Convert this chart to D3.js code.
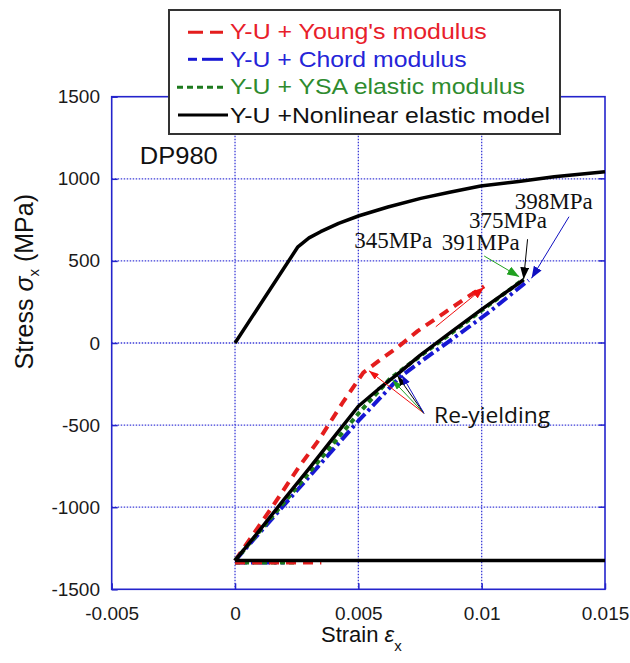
<!DOCTYPE html>
<html>
<head>
<meta charset="utf-8">
<script src="https://cdn.jsdelivr.net/npm/d3@7"></script>
<style>
  body { margin: 0; background: #fff; }
  svg { display: block; }
</style>
</head>
<body>
<div id="chart"></div>
<script>
// Data ###############################################################
// monotonic loading (black, upper curve)
var strainMono = [0, 0.00255, 0.0030, 0.00347, 0.0042, 0.00503, 0.0062, 0.00753, 0.0087, 0.00996, 0.0115, 0.01294, 0.015];
var stressMono = [0, 586, 640, 678, 729, 775, 828, 881, 918, 956, 984, 1013, 1043];

// reverse loading after prestrain: Y-U + Young's modulus (red)
var strainYoung = [0, 0.0015, 0.0026, 0.0034, 0.0044, 0.0052, 0.0058, 0.0066, 0.0074, 0.0085, 0.0094, 0.0101];
var stressYoung = [-1325, -1000, -753, -590, -355, -180, -112, -25, 72, 185, 278, 345];

// Y-U + Chord modulus (blue)
var strainChord = [0, 0.0025, 0.005, 0.0067, 0.0077, 0.009, 0.0103, 0.0119];
var stressChord = [-1325, -900, -475, -205, -95, 45, 188, 382];

// Y-U + YSA elastic modulus (green)
var strainYSA = [0, 0.0025, 0.005, 0.0063, 0.0075, 0.0087, 0.01, 0.0117];
var stressYSA = [-1325, -880, -430, -215, -80, 52, 198, 388];

// Y-U + Nonlinear elastic model (black)
var strainNL = [0, 0.001, 0.002, 0.003, 0.004, 0.005, 0.0058, 0.0066, 0.0075, 0.0087, 0.01, 0.0117];
var stressNL = [-1325, -1140, -950, -765, -575, -385, -283, -188, -75, 60, 205, 385];

// flat compression level (prestrain stress)
var holdStrain = [0, 0.015];
var holdStress = [-1325, -1325];
var holdEndYoung = 0.0035, holdEndYSA = 0.0025, holdEndChord = 0.002;

// axes
var xTicks = [-0.005, 0, 0.005, 0.01, 0.015];
var xTickLabels = ["-0.005", "0", "0.005", "0.01", "0.015"];
var yTicks = [-1500, -1000, -500, 0, 500, 1000, 1500];
var yTickLabels = ["-1500", "-1000", "-500", "0", "500", "1000", "1500"];
var xGrid = [0, 0.005, 0.01];
var yGrid = [-1000, -500, 0, 500, 1000];

// legend
var legendNames = ["Y-U + Young's modulus", "Y-U + Chord modulus", "Y-U + YSA elastic modulus", "Y-U +Nonlinear elastic model"];

// annotations (data coordinates)
var peakLabels = ["345MPa", "391MPa", "375MPa", "398MPa"];
var peakLabelX = [0.00483, 0.00838, 0.00949, 0.01134];
var peakLabelY = [580, 566, 699, 817];
var peakFromX = [0.00814, 0.0101, 0.01186, 0.01354];
var peakFromY = [99, 530, 632, 769];
var peakToX = [0.0101, 0.01152, 0.0117, 0.01202];
var peakToY = [339, 404, 388, 394];
var reyieldFrom = [0.00766, -428];
var reyieldToX = [0.00543, 0.00638, 0.00659, 0.00676];
var reyieldToY = [-169, -225, -201, -195];

// Styles #############################################################
var red = "#e41d1d", blue = "#1717d4", green = "#1d7a1d", black = "#000";
var arrowColors = ["#f01010", "#20a020", "#000", "#1010c0"];
var legendColors = ["#e8202a", "#2424d8", "#2e8b2e", "#111"];
var axisBlue = "#2424cc";

var width = 630;
var height = 663;

var svg = d3.select("#chart")
    .append("svg")
    .attr("width", width)
    .attr("height", height);

svg.append("rect").attr("width", width).attr("height", height).attr("fill", "#fff");

var x = d3.scaleLinear().domain([-0.005, 0.015]).range([111.7, 605]);
var y = d3.scaleLinear().domain([-1500, 1500]).range([589.3, 96.7]);

// markers for arrows
var defs = svg.append("defs");
function addMarker(id, color, len, wid) {
    defs.append("marker")
        .attr("id", id)
        .attr("markerUnits", "userSpaceOnUse")
        .attr("markerWidth", len)
        .attr("markerHeight", wid)
        .attr("refX", len)
        .attr("refY", wid / 2)
        .attr("orient", "auto")
        .append("path")
        .attr("d", `M0,0 L${len},${wid / 2} L0,${wid} z`)
        .attr("fill", color);
}
arrowColors.forEach(function(c, i) {
    addMarker("big" + i, c, 12, 9);
    addMarker("small" + i, c, 10, 7);
});

// grid ###############################################################
svg.append("g").selectAll("line").data(xGrid).enter().append("line")
    .attr("x1", d => x(d)).attr("x2", d => x(d))
    .attr("y1", y(1500)).attr("y2", y(-1500))
    .attr("stroke", "#3c3cd8").attr("stroke-width", 1.3)
    .attr("stroke-dasharray", "1.5,1.5");
svg.append("g").selectAll("line").data(yGrid).enter().append("line")
    .attr("y1", d => y(d)).attr("y2", d => y(d))
    .attr("x1", x(-0.005)).attr("x2", x(0.015))
    .attr("stroke", "#3c3cd8").attr("stroke-width", 1.3)
    .attr("stroke-dasharray", "1.5,1.5");

// axes with d3 axis generators
var xAxis = d3.axisBottom(x).tickValues(xTicks)
    .tickFormat((d, i) => xTickLabels[i])
    .tickSizeInner(-6).tickSizeOuter(0).tickPadding(17);
var yAxis = d3.axisLeft(y).tickValues(yTicks)
    .tickFormat((d, i) => yTickLabels[i])
    .tickSizeInner(-6).tickSizeOuter(0).tickPadding(11.7);

var gx = svg.append("g").attr("transform", `translate(0,${y(-1500)})`).call(xAxis);
var gy = svg.append("g").attr("transform", `translate(${x(-0.005)},0)`).call(yAxis);
[gx, gy].forEach(function(g) {
    g.select(".domain").remove();
    g.selectAll(".tick line").attr("stroke", axisBlue).attr("stroke-width", 1.5);
    g.selectAll(".tick text")
        .attr("fill", "#1a1a1a")
        .style("font-family", "'Liberation Sans', Arial, sans-serif")
        .style("font-size", "19px");
});

// ticks on top and right edges
svg.append("g").selectAll("line").data(xGrid).enter().append("line")
    .attr("x1", d => x(d)).attr("x2", d => x(d))
    .attr("y1", y(1500)).attr("y2", y(1500) + 6)
    .attr("stroke", axisBlue).attr("stroke-width", 1.5);
svg.append("g").selectAll("line").data(yGrid).enter().append("line")
    .attr("y1", d => y(d)).attr("y2", d => y(d))
    .attr("x1", x(0.015)).attr("x2", x(0.015) - 6)
    .attr("stroke", axisBlue).attr("stroke-width", 1.5);

// plot border
svg.append("rect")
    .attr("x", x(-0.005)).attr("y", y(1500))
    .attr("width", x(0.015) - x(-0.005))
    .attr("height", y(-1500) - y(1500))
    .attr("fill", "none").attr("stroke", axisBlue).attr("stroke-width", 1.6);

// curves #############################################################
function pts(xs, ys) { return xs.map((v, i) => [v, ys[i]]); }
var lineGen = d3.line().x(d => x(d[0])).y(d => y(d[1]));

function drawLine(data, color, w, dash) {
    svg.append("path")
        .datum(data)
        .attr("d", lineGen)
        .attr("fill", "none")
        .attr("stroke", color)
        .attr("stroke-width", w)
        .attr("stroke-dasharray", dash || null)
        .attr("stroke-linejoin", "round");
}

// flat compression segments of the coloured models (just below the black one)
drawLine(pts([0, holdEndChord], [-1338, -1338]), blue, 3.5, "12,4,3,4");
drawLine(pts([0, holdEndYSA], [-1338, -1338]), green, 3.5, "5,4");
drawLine(pts([0, holdEndYoung], [-1338, -1338]), red, 3.5, "10,7");

drawLine(pts(strainYoung, stressYoung), red, 4, "10,7");
drawLine(pts(strainChord, stressChord), blue, 4, "12,4,3,4");
drawLine(pts(strainYSA, stressYSA), green, 4, "5,4");
drawLine(pts(strainNL, stressNL), black, 3.5);
drawLine(pts(strainMono, stressMono), black, 3.5);
drawLine(pts(holdStrain, holdStress), black, 3.5);

// annotations #########################################################
var ann = svg.append("g");
peakLabels.forEach(function(t, i) {
    ann.append("text")
        .attr("x", x(peakLabelX[i])).attr("y", y(peakLabelY[i]))
        .style("font-family", "'Liberation Serif', 'Times New Roman', serif")
        .style("font-size", "23px")
        .attr("fill", "#111")
        .text(t);
    ann.append("line")
        .attr("x1", x(peakFromX[i])).attr("y1", y(peakFromY[i]))
        .attr("x2", x(peakToX[i])).attr("y2", y(peakToY[i]))
        .attr("stroke", arrowColors[i]).attr("stroke-width", 1)
        .attr("marker-end", "url(#big" + i + ")");
});

reyieldToX.forEach(function(v, i) {
    ann.append("line")
        .attr("x1", x(reyieldFrom[0])).attr("y1", y(reyieldFrom[1]))
        .attr("x2", x(v)).attr("y2", y(reyieldToY[i]))
        .attr("stroke", arrowColors[i]).attr("stroke-width", 1)
        .attr("marker-end", "url(#small" + i + ")");
});
ann.append("text")
    .attr("x", x(0.00807)).attr("y", y(-489))
    .style("font-family", "'Open Sans', Lato, sans-serif")
    .style("font-size", "22px")
    .attr("fill", "#111")
    .attr("textLength", 116).attr("lengthAdjust", "spacingAndGlyphs")
    .text("Re-yielding");

ann.append("text")
    .attr("x", x(-0.00386)).attr("y", y(1090))
    .style("font-family", "'Liberation Sans', Arial, sans-serif")
    .style("font-size", "23px")
    .attr("fill", "#111")
    .attr("textLength", 78).attr("lengthAdjust", "spacingAndGlyphs")
    .text("DP980");

// axis titles
var ytitle = svg.append("text")
    .attr("transform", "translate(33,281.7) rotate(-90)")
    .attr("text-anchor", "middle")
    .style("font-family", "'Liberation Sans', Arial, sans-serif")
    .style("font-size", "25px")
    .attr("fill", "#111");
ytitle.append("tspan").text("Stress ");
ytitle.append("tspan").style("font-style", "italic").text("\u03c3");
ytitle.append("tspan").attr("dy", 6).style("font-size", "15px").text("x");
ytitle.append("tspan").attr("dy", -6).text("  (MPa)");

var xtitle = svg.append("text")
    .attr("x", 321).attr("y", 642)
    .style("font-family", "'Liberation Sans', Arial, sans-serif")
    .style("font-size", "22px")
    .attr("fill", "#111");
xtitle.append("tspan").text("Strain  ");
xtitle.append("tspan").style("font-style", "italic").text("\u03b5");
xtitle.append("tspan").attr("dy", 9).style("font-size", "15px").text("x");

// legend ##############################################################
var legend = svg.append("g");
legend.append("rect")
    .attr("x", 169).attr("y", 10).attr("width", 391).attr("height", 124)
    .attr("fill", "#fff").attr("stroke", "#333").attr("stroke-width", 2);

var rowBase = [39.3, 66.7, 94.3, 122.7];
var textEnd = [486.7, 466.7, 525, 550];
legendNames.forEach(function(name, i) {
    legend.append("text")
        .attr("x", 230).attr("y", rowBase[i])
        .style("font-family", "'Liberation Sans', Arial, sans-serif")
        .style("font-size", "22px")
        .attr("fill", legendColors[i])
        .attr("textLength", textEnd[i] - 230).attr("lengthAdjust", "spacingAndGlyphs")
        .text(name);
});
// samples
legend.append("line").attr("x1", 188).attr("x2", 223).attr("y1", 32.3).attr("y2", 32.3)
    .attr("stroke", red).attr("stroke-width", 3).attr("stroke-dasharray", "15,7");
legend.append("line").attr("x1", 188).attr("x2", 197).attr("y1", 59.3).attr("y2", 59.3)
    .attr("stroke", blue).attr("stroke-width", 3);
legend.append("line").attr("x1", 202).attr("x2", 223).attr("y1", 59.3).attr("y2", 59.3)
    .attr("stroke", blue).attr("stroke-width", 3);
legend.append("line").attr("x1", 177).attr("x2", 224).attr("y1", 87.3).attr("y2", 87.3)
    .attr("stroke", green).attr("stroke-width", 3).attr("stroke-dasharray", "6,4");
legend.append("line").attr("x1", 178).attr("x2", 228).attr("y1", 115).attr("y2", 115)
    .attr("stroke", black).attr("stroke-width", 3);
</script>
</body>
</html>
